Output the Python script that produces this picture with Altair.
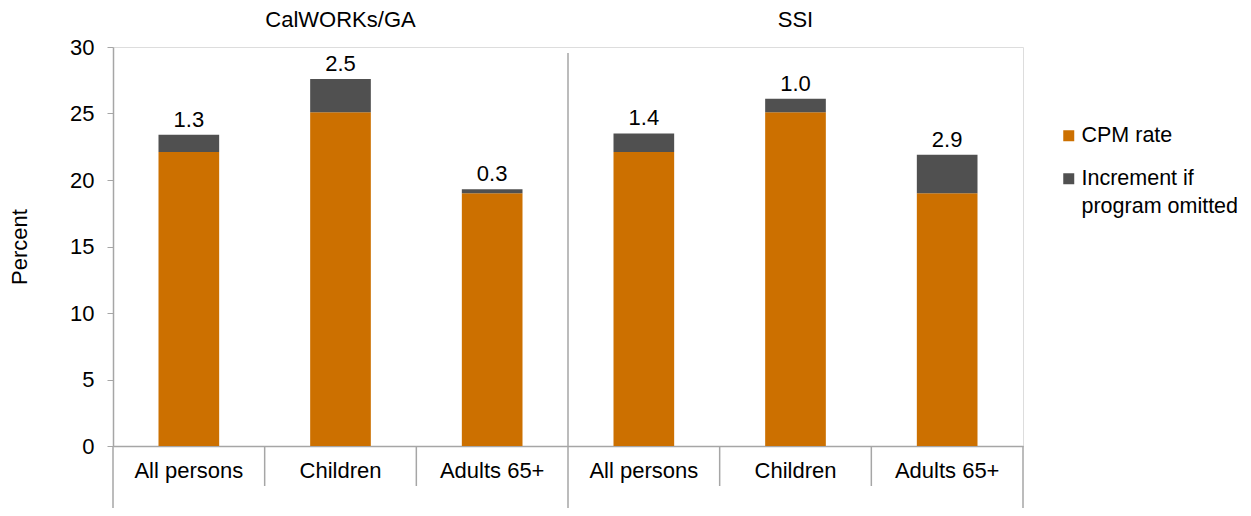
import altair as alt
import pandas as pd

programs = ["CalWORKs/GA", "CalWORKs/GA", "CalWORKs/GA", "SSI", "SSI", "SSI"]
groups = ["All persons", "Children", "Adults 65+", "All persons", "Children", "Adults 65+"]
cpm_rate = [22.1, 25.1, 19.0, 22.1, 25.1, 19.0]
increment = [1.3, 2.5, 0.3, 1.4, 1.0, 2.9]
series_names = ["CPM rate", "Increment if program omitted"]
series_colors = ["#CC7000", "#505050"]
y_ticks = [0, 5, 10, 15, 20, 25, 30]

FONT = "Liberation Sans"
FS = 22
W, H = 910, 399
AX = "#A6A6A6"

keys = [f"{i}|{g}" for i, g in enumerate(groups)]
key_order = keys

rows = []
for k, p, g, c, inc in zip(keys, programs, groups, cpm_rate, increment):
    rows.append({"key": k, "program": p, "group": g, "series": series_names[0], "value": c, "ord": 0})
    rows.append({"key": k, "program": p, "group": g, "series": series_names[1], "value": inc, "ord": 1})
bars_df = pd.DataFrame(rows)

labels_df = pd.DataFrame({
    "key": keys,
    "total": [c + i for c, i in zip(cpm_rate, increment)],
    "inc": increment,
})

# panel titles placed over the middle category of each program
titles_df = pd.DataFrame({
    "key": [k for k, g in zip(keys, groups) if g == "Children"],
    "program": [p for p, g in zip(programs, groups) if g == "Children"],
})

xband = alt.X(
    "key:N",
    sort=key_order,
    scale=alt.Scale(paddingInner=0.6, paddingOuter=0.3),
    axis=alt.Axis(
        title=None,
        labelExpr="split(datum.label, '|')[1]",
        labelAngle=0,
        labelFont=FONT,
        labelFontSize=FS,
        labelColor="#000000",
        labelPadding=14,
        ticks=False,
        domainColor=AX,
        domainWidth=1.5,
    ),
)

bars = alt.Chart(bars_df).mark_bar().encode(
    x=xband,
    y=alt.Y(
        "value:Q",
        stack="zero",
        scale=alt.Scale(domain=[0, 30], nice=False),
        axis=alt.Axis(
            values=y_ticks,
            title="Percent",
            titleFont=FONT,
            titleFontSize=FS,
            titleFontWeight="normal",
            titleColor="#000000",
            titlePadding=38,
            labelFont=FONT,
            labelFontSize=FS,
            labelColor="#000000",
            labelPadding=13,
            tickSize=6,
            tickColor=AX,
            domainColor=AX,
            domainWidth=1.5,
            grid=False,
        ),
    ),
    color=alt.Color(
        "series:N",
        scale=alt.Scale(domain=series_names, range=series_colors),
        legend=alt.Legend(
            title=None,
            orient="none",
            legendX=945,
            legendY=78,
            symbolType="square",
            symbolSize=121,
            symbolStrokeWidth=0,
            labelFont=FONT,
            labelFontSize=21.5,
            labelColor="#000000",
            labelLimit=300,
            labelOffset=2,
            rowPadding=20,
            labelExpr="datum.label == 'Increment if program omitted' ? ['Increment if', 'program omitted'] : datum.label",
        ),
    ),
    order=alt.Order("ord:Q"),
)

value_labels = alt.Chart(labels_df).mark_text(
    font=FONT, fontSize=FS, color="#000000", baseline="alphabetic", dy=-8
).encode(
    x=alt.X("key:N", sort=key_order),
    y=alt.Y("total:Q"),
    text=alt.Text("inc:Q", format=".1f"),
)

panel_titles = alt.Chart(titles_df).mark_text(
    font=FONT, fontSize=FS, color="#000000", baseline="middle"
).encode(
    x=alt.X("key:N", sort=key_order),
    y=alt.value(-27),
    text="program:N",
)

bands_layer = alt.layer(bars, value_labels, panel_titles)

sep_df = pd.DataFrame({"b": [0, 1, 2, 3, 4, 5, 6]})
xq = alt.X("b:Q", scale=alt.Scale(domain=[0, 6], nice=False), axis=None)

inner_seps = alt.Chart(sep_df).transform_filter(
    "datum.b != 0 && datum.b != 3 && datum.b != 6"
).mark_rule(color=AX, strokeWidth=1.5).encode(
    x=xq, y=alt.value(H), y2=alt.value(H + 40)
)
outer_seps = alt.Chart(sep_df).transform_filter(
    "datum.b == 0 || datum.b == 6"
).mark_rule(color=AX, strokeWidth=1.5).encode(
    x=xq, y=alt.value(H), y2=alt.value(H + 70)
)
mid_sep = alt.Chart(sep_df).transform_filter("datum.b == 3").mark_rule(
    color=AX, strokeWidth=1.5
).encode(x=xq, y=alt.value(6), y2=alt.value(H + 70))

chart = alt.layer(bands_layer, inner_seps, outer_seps, mid_sep).resolve_scale(
    x="independent"
).properties(
    width=W,
    height=H,
    autosize=alt.AutoSizeParams(type="none"),
    padding={"left": 105, "top": 39, "right": 220, "bottom": 62},
).configure_view(stroke=None).configure(
    background="white",
    style={"guide-label": {"lineHeight": 28}},
)

chart.save("out.html", embed_options={"renderer": "svg", "actions": False})
